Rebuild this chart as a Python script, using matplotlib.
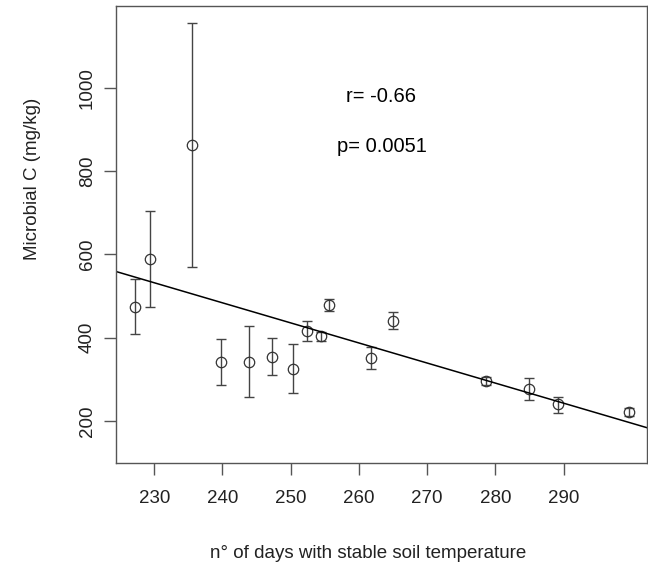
import numpy as np
import matplotlib
matplotlib.use("Agg")
import matplotlib.pyplot as plt

# data
days = [227.2, 229.4, 235.5, 239.8, 243.9, 247.2, 250.3, 252.4,
        254.5, 255.6, 261.8, 265.0, 278.6, 284.9, 289.1, 299.5]
microbial_c = [475, 589, 863, 342, 342, 354, 326, 416,
               403, 479, 351, 441, 296, 277, 240, 221]
upper = [540, 704, 1157, 398, 427, 399, 386, 440,
         413, 493, 377, 461, 306, 303, 258, 230]
lower = [408, 475, 571, 287, 258, 310, 267, 393,
         393, 464, 324, 420, 286, 251, 220, 212]

# regression line
intercept = 1641.6
slope = -4.824
r_text = "r= -0.66"
p_text = "p= 0.0051"

plt.rcParams['font.family'] = ['Liberation Sans', 'DejaVu Sans']

fig = plt.figure(figsize=(6.48, 5.69), dpi=100)
ax = fig.add_axes([116 / 648, 1 - 463 / 569, 531 / 648, 457 / 569])

x = np.array(days)
y = np.array(microbial_c)
yerr = np.array([y - np.array(lower), np.array(upper) - y])

ax.errorbar(x, y, yerr=yerr, fmt='none', ecolor='#444444', elinewidth=1,
            capsize=3.5, capthick=1)
ax.plot(x, y, 'o', mfc='none', mec='#333333', mew=0.9, ms=7.5)
ax.axline((0, intercept), slope=slope, color='black', lw=1.1)

ax.text(263.3, 967, r_text, ha='center', va='baseline', fontsize=14.5)
ax.text(263.3, 847, p_text, ha='center', va='baseline', fontsize=14.5)

ax.set_xlim(224.4, 302.2)
ax.set_ylim(99, 1197)
ax.set_xticks([230, 240, 250, 260, 270, 280, 290])
ax.set_yticks([200, 400, 600, 800, 1000])

for s in ax.spines.values():
    s.set_color('#555555')
    s.set_linewidth(1)

ax.tick_params(axis='both', length=8.5, width=1, color='#555555',
               labelsize=13.5, labelcolor='#222222')
ax.tick_params(axis='x', pad=11)
ax.tick_params(axis='y', pad=6, labelrotation=90)
for lab in ax.get_yticklabels():
    lab.set_va('center')

fig.text(33 / 648, 1 - 179 / 569, "Microbial C (mg/kg)", rotation=90,
         ha='center', va='center', fontsize=13.5, color='#222222')
fig.text(368 / 648, 1 - 553 / 569, "n° of days with stable soil temperature",
         ha='center', va='center', fontsize=13.5, color='#222222')

fig.savefig("out.png", dpi=100)
